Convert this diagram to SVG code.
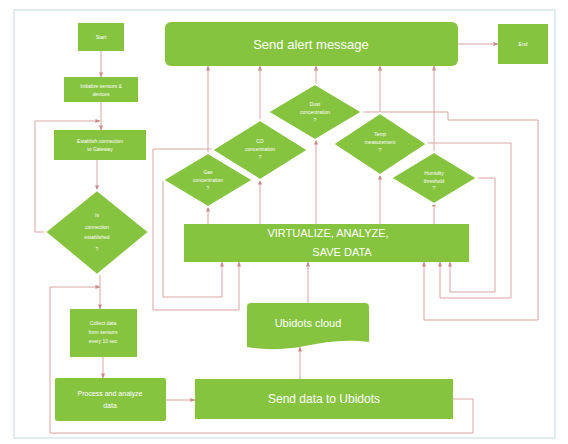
<svg xmlns="http://www.w3.org/2000/svg" width="568" height="444" viewBox="0 0 568 444">
<defs>
<marker id="ah" viewBox="0 0 6 6" refX="5.5" refY="3" markerWidth="5" markerHeight="5" orient="auto">
<path d="M0,0.5 L6,3 L0,5.5 Z" fill="#c98c8c"/>
</marker>
<marker id="dot" viewBox="0 0 6 6" refX="3" refY="3" markerWidth="4" markerHeight="4">
<circle cx="3" cy="3" r="2.5" fill="#c98c8c"/>
</marker>
</defs>
<style>
.n{fill:#86c440}
.d{fill:#86c440;stroke:#ffffff;stroke-width:2}
.t{fill:#ffffff;font-family:"Liberation Sans",Arial,sans-serif;text-anchor:middle}
.s{font-size:5px}
.c path{fill:none;stroke:#d9a3a3;stroke-width:1}
</style>
<rect x="0" y="0" width="568" height="444" fill="#ffffff"/>
<rect x="14" y="10" width="541" height="428" fill="none" stroke="#d4e6ee" stroke-width="1.5"/>

<g class="c">
<path d="M101,51 V77" marker-end="url(#ah)"/>
<path d="M101,102 V130" marker-end="url(#ah)"/>
<path d="M45,232 H35 V121 H100" marker-end="url(#ah)"/>
<path d="M97,160 V190" marker-end="url(#ah)"/>
<path d="M100,275 V309" marker-end="url(#ah)"/>
<path d="M453,399 H473 V433 H50 V287 H100" marker-end="url(#ah)"/>
<path d="M103,357 V378" marker-end="url(#ah)"/>
<path d="M166,400 H195" marker-end="url(#ah)"/>
<path d="M300,379 V347" marker-end="url(#ah)"/>
<path d="M308,303 V262" marker-end="url(#ah)"/>
<path d="M208,224 V207" marker-end="url(#ah)"/>
<path d="M260,224 V180" marker-end="url(#ah)"/>
<path d="M316,224 V140" marker-end="url(#ah)"/>
<path d="M380,224 V175" marker-end="url(#ah)"/>
<path d="M434,224 V202" marker-end="url(#ah)"/>
<path d="M208,153 V66" marker-end="url(#ah)"/>
<path d="M260,120 V66" marker-end="url(#ah)"/>
<path d="M316,84 V66" marker-end="url(#ah)"/>
<path d="M380,113 V66" marker-end="url(#ah)"/>
<path d="M434,152 V66" marker-end="url(#ah)"/>
<path d="M458,44 H498" marker-end="url(#ah)"/>
<path d="M163,180 V297 H222 V262" marker-end="url(#ah)"/>
<path d="M213,149 H153 V310 H239 V262" marker-end="url(#ah)"/>
<path d="M362,112 H448 V120 H538 V320 H424 V262" marker-end="url(#ah)"/>
<path d="M427,143 H511 V298 H440 V262" marker-end="url(#ah)"/>
<path d="M477,178 H495 V292 H450 V262" marker-end="url(#ah)"/>
</g>

<g id="start"><rect class="n" x="78" y="23" width="46" height="28"/><text class="t s" x="101" y="39">Start</text></g>
<g id="init"><rect class="n" x="64" y="77" width="74" height="25"/><text class="t s" x="101" y="88">Initialize sensors &amp;</text><text class="t s" x="101" y="96">devices</text></g>
<g id="establish"><rect class="n" x="54" y="130" width="92" height="30"/><text class="t s" x="100" y="143">Establish connection</text><text class="t s" x="100" y="151">to Gateway</text></g>
<g id="isconn"><polygon class="d" points="97,190 149,232 97,275 45,232"/><text class="t s" x="97" y="217">Is</text><text class="t s" x="97" y="229">connection</text><text class="t s" x="97" y="239">established</text><text class="t s" x="97" y="251">?</text></g>
<g id="collect"><rect class="n" x="70" y="309" width="67" height="48"/><text class="t s" x="103" y="325">Collect data</text><text class="t s" x="103" y="334">from sensors</text><text class="t s" x="103" y="343">every 10 sec</text></g>
<g id="process"><rect class="n" x="55" y="378" width="111" height="43" rx="2"/><text class="t" font-size="7" x="110" y="396">Process and analyze</text><text class="t" font-size="7" x="110" y="408">data</text></g>
<g id="senddata"><rect class="n" x="195" y="379" width="258" height="40"/><text class="t" font-size="12" x="324" y="403">Send data to Ubidots</text></g>
<g id="cloud"><path class="n" d="M251,303 H365 Q369,303 369,307 V342 C345,339 325,342 305,346 C285,350 262,350 247,347 V307 Q247,303 251,303 Z"/><text class="t" font-size="11" x="308" y="327">Ubidots cloud</text></g>
<g id="virtualize"><rect class="n" x="184" y="224" width="285" height="38"/><text class="t" font-size="11" x="328" y="237">VIRTUALIZE, ANALYZE,</text><text class="t" font-size="11" x="342" y="256">SAVE DATA</text></g>
<g id="alert"><rect class="n" x="165" y="22" width="293" height="44" rx="6"/><text class="t" font-size="13" x="311" y="49">Send alert message</text></g>
<g id="end"><rect class="n" x="498" y="24" width="50" height="40"/><text class="t s" x="523" y="46">End</text></g>

<g id="d3"><polygon class="d" points="315,84 362,112 315,140 268,112"/><text class="t s" x="315" y="106">Dust</text><text class="t s" x="315" y="114">concentration</text><text class="t s" x="315" y="122">?</text></g>
<g id="d2"><polygon class="d" points="260,120 308,150 260,180 212,150"/><text class="t s" x="260" y="143">CO</text><text class="t s" x="260" y="151">concentration</text><text class="t s" x="260" y="159">?</text></g>
<g id="d1"><polygon class="d" points="208,153 253,180 208,207 163,180"/><text class="t s" x="208" y="174">Gas</text><text class="t s" x="208" y="182">concentration</text><text class="t s" x="208" y="190">?</text></g>
<g id="d4"><polygon class="d" points="380,113 427,144 380,175 333,144"/><text class="t s" x="380" y="136">Temp</text><text class="t s" x="380" y="144">measurement</text><text class="t s" x="380" y="152">?</text></g>
<g id="d5"><polygon class="d" points="434,152 477,178 434,204 391,178"/><text class="t s" x="434" y="175">Humidity</text><text class="t s" x="434" y="183">threshold</text><text class="t s" x="434" y="190">?</text></g>
</svg>
